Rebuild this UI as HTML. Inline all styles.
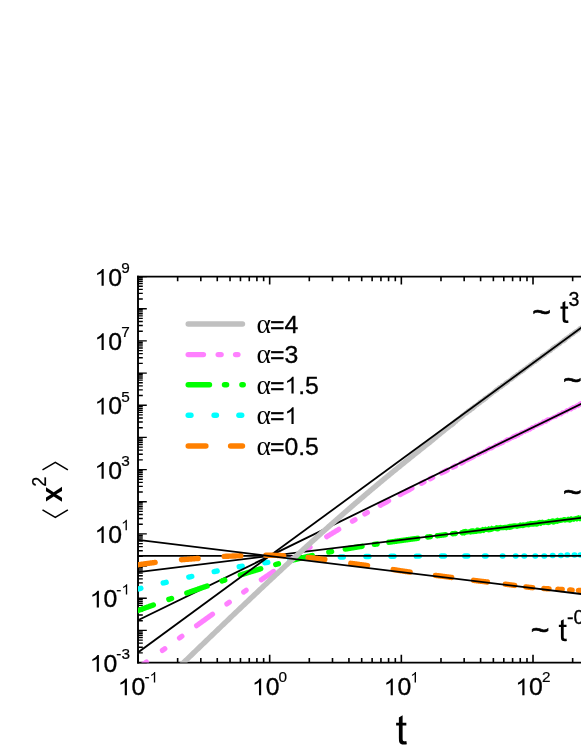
<!DOCTYPE html>
<html><head><meta charset="utf-8"><title>MSD</title>
<style>html,body{margin:0;padding:0;background:#fff;}body{width:581px;height:752px;overflow:hidden;position:relative;font-family:"Liberation Sans",sans-serif;}</style>
</head><body>
<svg width="581" height="752" viewBox="0 0 581 752" style="display:block;position:absolute;left:0;top:0;will-change:transform">
<rect x="0" y="0" width="581" height="752" fill="#fff"/>
<defs><clipPath id="pc"><rect x="138.0" y="276.55" width="448.0" height="386.00"/></clipPath></defs>
<g stroke="#000" fill="none">
<path d="M583,276.55 L137.05,276.55 M137.05,662.55 L583,662.55" stroke-width="1.65"/>
<path d="M138.0,275.73 L138.0,663.38" stroke-width="1.9"/>
<path d="M138.0,662.55h8.8M138.0,652.87h4.8M138.0,647.20h4.8M138.0,643.18h4.8M138.0,640.07h4.8M138.0,637.52h4.8M138.0,635.37h4.8M138.0,633.50h4.8M138.0,631.86h4.8M138.0,630.38h8.8M138.0,620.70h4.8M138.0,615.04h4.8M138.0,611.02h4.8M138.0,607.90h4.8M138.0,605.35h4.8M138.0,603.20h4.8M138.0,601.33h4.8M138.0,599.69h4.8M138.0,598.22h8.8M138.0,588.53h4.8M138.0,582.87h4.8M138.0,578.85h4.8M138.0,575.73h4.8M138.0,573.19h4.8M138.0,571.03h4.8M138.0,569.17h4.8M138.0,567.52h4.8M138.0,566.05h8.8M138.0,556.37h4.8M138.0,550.70h4.8M138.0,546.68h4.8M138.0,543.57h4.8M138.0,541.02h4.8M138.0,538.87h4.8M138.0,537.00h4.8M138.0,535.36h4.8M138.0,533.88h8.8M138.0,524.20h4.8M138.0,518.54h4.8M138.0,514.52h4.8M138.0,511.40h4.8M138.0,508.85h4.8M138.0,506.70h4.8M138.0,504.83h4.8M138.0,503.19h4.8M138.0,501.72h8.8M138.0,492.03h4.8M138.0,486.37h4.8M138.0,482.35h4.8M138.0,479.23h4.8M138.0,476.69h4.8M138.0,474.53h4.8M138.0,472.67h4.8M138.0,471.02h4.8M138.0,469.55h8.8M138.0,459.87h4.8M138.0,454.20h4.8M138.0,450.18h4.8M138.0,447.07h4.8M138.0,444.52h4.8M138.0,442.37h4.8M138.0,440.50h4.8M138.0,438.86h4.8M138.0,437.38h8.8M138.0,427.70h4.8M138.0,422.04h4.8M138.0,418.02h4.8M138.0,414.90h4.8M138.0,412.35h4.8M138.0,410.20h4.8M138.0,408.33h4.8M138.0,406.69h4.8M138.0,405.22h8.8M138.0,395.53h4.8M138.0,389.87h4.8M138.0,385.85h4.8M138.0,382.73h4.8M138.0,380.19h4.8M138.0,378.03h4.8M138.0,376.17h4.8M138.0,374.52h4.8M138.0,373.05h8.8M138.0,363.37h4.8M138.0,357.70h4.8M138.0,353.68h4.8M138.0,350.57h4.8M138.0,348.02h4.8M138.0,345.87h4.8M138.0,344.00h4.8M138.0,342.36h4.8M138.0,340.88h8.8M138.0,331.20h4.8M138.0,325.54h4.8M138.0,321.52h4.8M138.0,318.40h4.8M138.0,315.85h4.8M138.0,313.70h4.8M138.0,311.83h4.8M138.0,310.19h4.8M138.0,308.72h8.8M138.0,299.03h4.8M138.0,293.37h4.8M138.0,289.35h4.8M138.0,286.23h4.8M138.0,283.69h4.8M138.0,281.53h4.8M138.0,279.67h4.8M138.0,278.02h4.8M138.0,276.55h8.8" stroke-width="1.35"/>
<path d="M138.00,662.55v-7.9M138.00,276.55v7.9M177.64,662.55v-4.6M177.64,276.55v4.6M200.82,662.55v-4.6M200.82,276.55v4.6M217.27,662.55v-4.6M217.27,276.55v4.6M230.03,662.55v-4.6M230.03,276.55v4.6M240.46,662.55v-4.6M240.46,276.55v4.6M249.27,662.55v-4.6M249.27,276.55v4.6M256.91,662.55v-4.6M256.91,276.55v4.6M263.65,662.55v-4.6M263.65,276.55v4.6M269.67,662.55v-7.9M269.67,276.55v7.9M309.31,662.55v-4.6M309.31,276.55v4.6M332.49,662.55v-4.6M332.49,276.55v4.6M348.94,662.55v-4.6M348.94,276.55v4.6M361.70,662.55v-4.6M361.70,276.55v4.6M372.13,662.55v-4.6M372.13,276.55v4.6M380.94,662.55v-4.6M380.94,276.55v4.6M388.58,662.55v-4.6M388.58,276.55v4.6M395.32,662.55v-4.6M395.32,276.55v4.6M401.34,662.55v-7.9M401.34,276.55v7.9M440.98,662.55v-4.6M440.98,276.55v4.6M464.16,662.55v-4.6M464.16,276.55v4.6M480.61,662.55v-4.6M480.61,276.55v4.6M493.37,662.55v-4.6M493.37,276.55v4.6M503.80,662.55v-4.6M503.80,276.55v4.6M512.61,662.55v-4.6M512.61,276.55v4.6M520.25,662.55v-4.6M520.25,276.55v4.6M526.99,662.55v-4.6M526.99,276.55v4.6M533.01,662.55v-7.9M533.01,276.55v7.9M572.65,662.55v-4.6M572.65,276.55v4.6" stroke-width="1.6"/>
</g>
<g clip-path="url(#pc)">
<path d="M137.94,588.99 L138.43,588.87 L138.91,588.76 L139.40,588.64 L139.89,588.53 L140.37,588.41 L140.86,588.29" fill="none" stroke="#00ffff" stroke-width="5.4" stroke-linecap="round" stroke-linejoin="round"/>
<path d="M163.24,582.99 L163.73,582.87 L164.21,582.76 L164.70,582.64 L165.19,582.53 L165.67,582.42 L166.16,582.30" fill="none" stroke="#00ffff" stroke-width="5.4" stroke-linecap="round" stroke-linejoin="round"/>
<path d="M188.84,577.09 L189.32,576.98 L189.81,576.88 L190.30,576.77 L190.79,576.66 L191.28,576.55 L191.76,576.44" fill="none" stroke="#00ffff" stroke-width="5.4" stroke-linecap="round" stroke-linejoin="round"/>
<path d="M214.23,571.60 L214.72,571.50 L215.21,571.40 L215.70,571.29 L216.19,571.19 L216.68,571.09 L217.17,570.99" fill="none" stroke="#00ffff" stroke-width="5.4" stroke-linecap="round" stroke-linejoin="round"/>
<path d="M239.22,566.78 L239.71,566.69 L240.21,566.60 L240.70,566.52 L241.19,566.43 L241.69,566.34 L242.18,566.26" fill="none" stroke="#00ffff" stroke-width="5.4" stroke-linecap="round" stroke-linejoin="round"/>
<path d="M264.81,562.75 L265.31,562.69 L265.80,562.62 L266.30,562.56 L266.80,562.49 L267.29,562.42 L267.79,562.36" fill="none" stroke="#00ffff" stroke-width="5.4" stroke-linecap="round" stroke-linejoin="round"/>
<path d="M290.01,559.90 L290.50,559.85 L291.00,559.81 L291.50,559.76 L292.00,559.72 L292.50,559.68 L292.99,559.63" fill="none" stroke="#00ffff" stroke-width="5.4" stroke-linecap="round" stroke-linejoin="round"/>
<path d="M315.20,558.08 L315.70,558.06 L316.20,558.03 L316.70,558.00 L317.20,557.98 L317.70,557.95 L318.20,557.92" fill="none" stroke="#00ffff" stroke-width="5.4" stroke-linecap="round" stroke-linejoin="round"/>
<path d="M340.30,557.05 L340.80,557.04 L341.30,557.02 L341.80,557.01 L342.30,556.99 L342.80,556.98 L343.30,556.97" fill="none" stroke="#00ffff" stroke-width="5.4" stroke-linecap="round" stroke-linejoin="round"/>
<path d="M365.90,556.50 L366.40,556.49 L366.90,556.49 L367.40,556.48 L367.90,556.47 L368.40,556.46 L368.90,556.46" fill="none" stroke="#00ffff" stroke-width="5.4" stroke-linecap="round" stroke-linejoin="round"/>
<path d="M391.00,556.23 L391.50,556.23 L392.00,556.22 L392.50,556.22 L393.00,556.22 L393.50,556.21 L394.00,556.21" fill="none" stroke="#00ffff" stroke-width="5.4" stroke-linecap="round" stroke-linejoin="round"/>
<path d="M416.30,556.10 L416.80,556.09 L417.30,556.09 L417.80,556.09 L418.30,556.09 L418.80,556.09 L419.30,556.09" fill="none" stroke="#00ffff" stroke-width="5.4" stroke-linecap="round" stroke-linejoin="round"/>
<path d="M441.50,556.03 L442.00,556.03 L442.50,556.03 L443.00,556.03 L443.50,556.03 L444.00,556.03 L444.50,556.03" fill="none" stroke="#00ffff" stroke-width="5.4" stroke-linecap="round" stroke-linejoin="round"/>
<path d="M464.80,556.00 L465.30,556.00 L465.80,556.00 L466.30,556.00 L466.80,556.00 L467.30,556.00 L467.80,556.00" fill="none" stroke="#00ffff" stroke-width="5.4" stroke-linecap="round" stroke-linejoin="round"/>
<path d="M484.50,555.99 L484.90,555.99 L485.30,555.99 L485.70,555.99 L486.10,555.99" fill="none" stroke="#00ffff" stroke-width="5.4" stroke-linecap="round" stroke-linejoin="round"/>
<path d="M502.30,555.98 L502.60,555.98 L502.90,555.98" fill="none" stroke="#00ffff" stroke-width="5.4" stroke-linecap="round" stroke-linejoin="round"/>
<path d="M515.40,555.98 L515.70,555.98 L516.00,555.98" fill="none" stroke="#00ffff" stroke-width="5.4" stroke-linecap="round" stroke-linejoin="round"/>
<path d="M524.00,555.98 L524.30,555.98 L524.60,555.98" fill="none" stroke="#00ffff" stroke-width="5.4" stroke-linecap="round" stroke-linejoin="round"/>
<path d="M535.00,555.98 L535.30,555.98 L535.60,555.98" fill="none" stroke="#00ffff" stroke-width="5.4" stroke-linecap="round" stroke-linejoin="round"/>
<path d="M544.00,555.98 L544.30,555.97 L544.60,555.97" fill="none" stroke="#00ffff" stroke-width="5.4" stroke-linecap="round" stroke-linejoin="round"/>
<path d="M552.40,555.47 L552.70,555.47 L553.00,555.47" fill="none" stroke="#00ffff" stroke-width="5.4" stroke-linecap="round" stroke-linejoin="round"/>
<path d="M560.60,555.47 L560.90,555.47 L561.20,555.47" fill="none" stroke="#00ffff" stroke-width="5.4" stroke-linecap="round" stroke-linejoin="round"/>
<path d="M567.00,554.97 L567.30,554.97 L567.60,554.97" fill="none" stroke="#00ffff" stroke-width="5.4" stroke-linecap="round" stroke-linejoin="round"/>
<path d="M574.20,554.97 L574.50,554.97 L574.80,554.97" fill="none" stroke="#00ffff" stroke-width="5.4" stroke-linecap="round" stroke-linejoin="round"/>
<path d="M580.20,554.97 L580.50,554.97 L580.80,554.97" fill="none" stroke="#00ffff" stroke-width="5.4" stroke-linecap="round" stroke-linejoin="round"/>
<line x1="138.0" y1="555.97" x2="586" y2="555.97" stroke="#000" stroke-width="1.8"/>
<path d="M140.10,666.65 L140.59,666.30 L141.07,665.94 L141.55,665.59 L142.04,665.24 L142.52,664.88 L143.01,664.53 L143.49,664.18 L143.98,663.82 L144.46,663.47 L144.95,663.12 L145.43,662.76 L145.91,662.41 L146.40,662.06" fill="none" stroke="#ff80ff" stroke-width="5.2" stroke-linecap="round" stroke-linejoin="round"/>
<path d="M196.61,625.63 L197.10,625.27 L197.60,624.91 L198.10,624.56 L198.59,624.20 L199.09,623.84 L199.59,623.48 L200.08,623.13 L200.58,622.77 L201.07,622.41 L201.57,622.06 L202.07,621.70 L202.56,621.34 L203.06,620.98 L203.55,620.63 L204.05,620.27 L204.55,619.91 L205.04,619.56 L205.54,619.20 L206.04,618.84 L206.53,618.49 L207.03,618.13 L207.52,617.77 L208.02,617.42 L208.52,617.06 L209.01,616.71 L209.51,616.35 L210.00,615.99 L210.50,615.64 L211.00,615.28 L211.49,614.93 L211.99,614.57 L212.49,614.22" fill="none" stroke="#ff80ff" stroke-width="5.2" stroke-linecap="round" stroke-linejoin="round"/>
<path d="M261.34,579.75 L261.83,579.42 L262.31,579.08 L262.80,578.74 L263.29,578.40 L263.78,578.07 L264.27,577.73 L264.76,577.40 L265.25,577.06 L265.73,576.72 L266.22,576.39 L266.71,576.05 L267.20,575.72 L267.69,575.38 L268.18,575.05 L268.66,574.71 L269.15,574.38 L269.64,574.04 L270.13,573.71 L270.62,573.38 L271.11,573.04 L271.60,572.71 L272.08,572.37 L272.57,572.04 L273.06,571.71 L273.55,571.38" fill="none" stroke="#ff80ff" stroke-width="5.2" stroke-linecap="round" stroke-linejoin="round"/>
<path d="M326.71,536.71 L327.19,536.41 L327.67,536.11 L328.15,535.81 L328.64,535.51 L329.12,535.22 L329.60,534.92 L330.09,534.62 L330.57,534.32 L331.05,534.03 L331.53,533.73 L332.02,533.44 L332.50,533.14 L332.98,532.85 L333.46,532.55 L333.95,532.26 L334.43,531.96 L334.91,531.67 L335.39,531.38 L335.88,531.08 L336.36,530.79 L336.84,530.50 L337.32,530.20 L337.81,529.91 L338.29,529.62 L338.77,529.33" fill="none" stroke="#ff80ff" stroke-width="5.2" stroke-linecap="round" stroke-linejoin="round"/>
<path d="M380.27,505.37 L380.76,505.10 L381.25,504.83 L381.75,504.56 L382.24,504.29 L382.73,504.02 L383.22,503.75 L383.71,503.48 L384.20,503.21 L384.69,502.94 L385.18,502.67 L385.67,502.40 L386.16,502.13 L386.65,501.87 L387.14,501.60 L387.63,501.33 L388.12,501.06 L388.61,500.79" fill="none" stroke="#ff80ff" stroke-width="5.2" stroke-linecap="round" stroke-linejoin="round"/>
<path d="M400.09,494.60 L400.59,494.34 L401.08,494.07 L401.58,493.81 L402.08,493.54 L402.57,493.28 L403.07,493.01 L403.56,492.75 L404.06,492.49 L404.56,492.22 L405.05,491.96 L405.55,491.70 L406.04,491.43 L406.54,491.17 L407.04,490.91 L407.53,490.65 L408.03,490.38 L408.52,490.12 L409.02,489.86 L409.52,489.60 L410.01,489.34 L410.51,489.07 L411.00,488.81 L411.50,488.55 L412.00,488.29" fill="none" stroke="#ff80ff" stroke-width="5.2" stroke-linecap="round" stroke-linejoin="round"/>
<path d="M441.52,473.03 L442.00,472.79 L442.48,472.54 L442.96,472.30 L443.44,472.05 L443.92,471.81 L444.40,471.57 L444.88,471.32 L445.36,471.08 L445.84,470.83 L446.32,470.59 L446.80,470.35 L447.28,470.10" fill="none" stroke="#ff80ff" stroke-width="5.2" stroke-linecap="round" stroke-linejoin="round"/>
<path d="M162.39,650.42 L162.87,650.07 L163.36,649.71 L163.84,649.36 L164.33,649.01 L164.81,648.66" fill="none" stroke="#ff80ff" stroke-width="5.2" stroke-linecap="round" stroke-linejoin="round"/>
<path d="M179.49,638.01 L179.97,637.66 L180.46,637.30 L180.94,636.95 L181.43,636.60 L181.91,636.25" fill="none" stroke="#ff80ff" stroke-width="5.2" stroke-linecap="round" stroke-linejoin="round"/>
<path d="M226.88,603.94 L227.37,603.59 L227.86,603.25 L228.34,602.90 L228.83,602.55 L229.32,602.20" fill="none" stroke="#ff80ff" stroke-width="5.2" stroke-linecap="round" stroke-linejoin="round"/>
<path d="M243.67,592.07 L244.16,591.72 L244.65,591.38 L245.15,591.03 L245.64,590.69 L246.13,590.34" fill="none" stroke="#ff80ff" stroke-width="5.2" stroke-linecap="round" stroke-linejoin="round"/>
<path d="M290.75,559.81 L291.17,559.53 L291.58,559.25 L292.00,558.98 L292.42,558.70 L292.83,558.43 L293.25,558.15" fill="none" stroke="#ff80ff" stroke-width="5.2" stroke-linecap="round" stroke-linejoin="round"/>
<path d="M307.54,548.82 L307.96,548.55 L308.38,548.28 L308.80,548.01 L309.22,547.74 L309.64,547.47 L310.06,547.20" fill="none" stroke="#ff80ff" stroke-width="5.2" stroke-linecap="round" stroke-linejoin="round"/>
<path d="M352.40,521.22 L352.84,520.97 L353.27,520.72 L353.70,520.47 L354.13,520.21 L354.56,519.96 L355.00,519.71" fill="none" stroke="#ff80ff" stroke-width="5.2" stroke-linecap="round" stroke-linejoin="round"/>
<path d="M364.80,514.06 L365.23,513.81 L365.67,513.57 L366.10,513.32 L366.53,513.07 L366.97,512.83 L367.40,512.58" fill="none" stroke="#ff80ff" stroke-width="5.2" stroke-linecap="round" stroke-linejoin="round"/>
<path d="M421.37,483.39 L421.81,483.16 L422.26,482.93 L422.70,482.70 L423.14,482.47 L423.59,482.24 L424.03,482.01" fill="none" stroke="#ff80ff" stroke-width="5.2" stroke-linecap="round" stroke-linejoin="round"/>
<path d="M430.07,478.90 L430.51,478.67 L430.96,478.44 L431.40,478.21 L431.84,477.98 L432.29,477.75 L432.73,477.52" fill="none" stroke="#ff80ff" stroke-width="5.2" stroke-linecap="round" stroke-linejoin="round"/>
<path d="M452.96,467.23 L453.41,467.00 L453.85,466.78 L454.30,466.55 L454.75,466.32 L455.19,466.10 L455.64,465.87" fill="none" stroke="#ff80ff" stroke-width="5.2" stroke-linecap="round" stroke-linejoin="round"/>
<path d="M461.16,463.10 L461.61,462.87 L462.05,462.65 L462.50,462.42 L462.95,462.20 L463.39,461.97 L463.84,461.75" fill="none" stroke="#ff80ff" stroke-width="5.2" stroke-linecap="round" stroke-linejoin="round"/>
<path d="M467.00,460.16 L467.50,459.91 L468.00,459.66 L468.50,459.41 L469.00,459.16 L469.50,458.91 L470.00,458.66 L470.50,458.41 L471.00,458.16 L471.50,457.91 L472.00,457.66 L472.50,457.41 L473.00,457.16 L473.50,456.91 L474.00,456.66" fill="none" stroke="#ff80ff" stroke-width="4.6" stroke-linecap="round" stroke-linejoin="round"/>
<path d="M476.40,452.91 L477.60,451.95 L478.80,451.48 L480.00,451.41 L481.20,450.83 L482.40,450.20 L483.60,449.21 L484.80,448.95 L486.00,447.80 L487.20,447.26 L488.40,446.22 L489.60,445.76 L490.80,445.95 L492.00,445.17 L493.20,444.72 L494.40,443.62 L495.60,443.12 L496.80,443.06 L498.00,441.79 L499.20,441.60 L500.40,440.85 L501.60,439.88 L502.80,439.89 L504.00,438.99 L505.20,438.17 L506.40,437.30 L507.60,437.33 L508.80,437.03 L510.00,436.56 L511.20,435.17 L512.40,434.46 L513.60,434.06 L514.80,433.60 L516.00,432.72 L517.20,432.53 L518.40,432.40 L519.60,431.16 L520.80,430.38 L522.00,430.27 L523.20,430.07 L524.40,429.32 L525.60,428.85 L526.80,428.19 L528.00,427.31 L529.20,427.06 L530.40,425.95 L531.60,425.07 L532.80,425.07 L534.00,424.39 L535.20,423.14 L536.40,423.41 L537.60,422.76 L538.80,421.78 L540.00,421.83 L541.20,420.84 L542.40,419.61 L543.60,419.50 L544.80,418.74 L546.00,417.90 L547.20,417.34 L548.40,417.28 L549.60,417.01 L550.80,416.47 L552.00,415.72 L553.20,414.99 L554.40,414.77 L555.60,414.07 L556.80,413.57 L558.00,412.33 L559.20,412.14 L560.40,411.43 L561.60,410.31 L562.80,410.14 L564.00,409.97 L565.20,409.10 L566.40,407.98 L567.60,408.28 L568.80,407.13 L570.00,406.53 L571.20,405.96 L572.40,405.00 L573.60,405.08 L574.80,404.59 L576.00,403.60 L577.20,403.24 L578.40,402.12 L579.60,401.49 L580.80,400.94 L582.00,401.00 L583.20,400.27 L584.00,400.24 L584.00,404.78 L583.20,404.89 L582.00,406.02 L580.80,406.85 L579.60,407.51 L578.40,408.30 L577.20,408.04 L576.00,409.24 L574.80,409.82 L573.60,409.97 L572.40,410.92 L571.20,411.81 L570.00,411.36 L568.80,412.08 L567.60,413.55 L566.40,413.27 L565.20,413.97 L564.00,414.38 L562.80,415.39 L561.60,416.53 L560.40,416.17 L559.20,417.00 L558.00,417.37 L556.80,418.76 L555.60,418.78 L554.40,419.14 L553.20,419.62 L552.00,420.33 L550.80,420.81 L549.60,422.02 L548.40,422.35 L547.20,423.38 L546.00,423.95 L544.80,423.74 L543.60,424.95 L542.40,425.62 L541.20,426.07 L540.00,426.50 L538.80,426.92 L537.60,427.75 L536.40,428.06 L535.20,428.56 L534.00,429.96 L532.80,430.03 L531.60,431.12 L530.40,431.73 L529.20,431.84 L528.00,432.90 L526.80,432.80 L525.60,433.96 L524.40,433.84 L523.20,434.81 L522.00,435.63 L520.80,435.79 L519.60,437.16 L518.40,437.43 L517.20,437.99 L516.00,438.89 L514.80,438.94 L513.60,439.68 L512.40,439.97 L511.20,440.84 L510.00,441.54 L508.80,441.94 L507.60,442.82 L506.40,442.71 L505.20,443.49 L504.00,444.73 L502.80,444.99 L501.60,445.72 L500.40,445.88 L499.20,446.79 L498.00,447.21 L496.80,447.56 L495.60,447.99 L494.40,448.93 L493.20,449.75 L492.00,450.61 L490.80,450.43 L489.60,451.22 L488.40,451.55 L487.20,452.53 L486.00,453.73 L484.80,453.53 L483.60,454.79 L482.40,454.58 L481.20,455.55 L480.00,456.23 L478.80,456.67 L477.60,456.95 L476.40,457.63Z" fill="#ff80ff"/>
<line x1="138.0" y1="620.29" x2="586" y2="401.45" stroke="#000" stroke-width="1.8"/>
<path d="M133.54,612.13 L134.03,611.95 L134.53,611.77 L135.02,611.59 L135.52,611.41 L136.02,611.23 L136.51,611.05 L137.01,610.87 L137.50,610.69 L138.00,610.51 L138.49,610.33 L138.99,610.15 L139.48,609.98 L139.98,609.80 L140.48,609.62 L140.97,609.44 L141.47,609.26 L141.96,609.08 L142.46,608.90 L142.95,608.72 L143.45,608.54 L143.94,608.36 L144.44,608.18 L144.94,608.01 L145.43,607.83 L145.93,607.65 L146.42,607.47 L146.92,607.29 L147.41,607.11 L147.91,606.93 L148.40,606.75 L148.90,606.58 L149.39,606.40 L149.89,606.22 L150.39,606.04 L150.88,605.86 L151.38,605.68 L151.87,605.50 L152.37,605.33 L152.86,605.15 L153.36,604.97" fill="none" stroke="#00ff00" stroke-width="5.4" stroke-linecap="round" stroke-linejoin="round"/>
<path d="M186.85,593.04 L187.34,592.87 L187.83,592.70 L188.32,592.52 L188.82,592.35 L189.31,592.18 L189.80,592.01 L190.29,591.83 L190.79,591.66 L191.28,591.49 L191.77,591.32 L192.27,591.14 L192.76,590.97 L193.25,590.80 L193.74,590.63 L194.24,590.46 L194.73,590.28 L195.22,590.11 L195.71,589.94 L196.21,589.77 L196.70,589.60 L197.19,589.43 L197.68,589.26 L198.18,589.08 L198.67,588.91 L199.16,588.74 L199.66,588.57 L200.15,588.40 L200.64,588.23 L201.13,588.06 L201.63,587.89 L202.12,587.72 L202.61,587.55 L203.10,587.38 L203.60,587.21 L204.09,587.04 L204.58,586.87 L205.07,586.70 L205.57,586.53 L206.06,586.36 L206.55,586.20 L207.04,586.03" fill="none" stroke="#00ff00" stroke-width="5.4" stroke-linecap="round" stroke-linejoin="round"/>
<path d="M240.27,575.02 L240.77,574.87 L241.27,574.71 L241.77,574.55 L242.27,574.39 L242.76,574.24 L243.26,574.08 L243.76,573.92 L244.26,573.77 L244.76,573.61 L245.26,573.45 L245.75,573.30 L246.25,573.14 L246.75,572.99 L247.25,572.83 L247.75,572.68 L248.25,572.53 L248.74,572.37 L249.24,572.22 L249.74,572.07 L250.24,571.91 L250.74,571.76 L251.24,571.61 L251.74,571.46 L252.23,571.30 L252.73,571.15 L253.23,571.00 L253.73,570.85 L254.23,570.70 L254.73,570.55 L255.22,570.40 L255.72,570.25 L256.22,570.10 L256.72,569.95 L257.22,569.80 L257.72,569.65 L258.22,569.50 L258.71,569.36 L259.21,569.21 L259.71,569.06 L260.21,568.91 L260.71,568.77" fill="none" stroke="#00ff00" stroke-width="5.4" stroke-linecap="round" stroke-linejoin="round"/>
<path d="M292.62,560.11 L293.11,559.99 L293.61,559.86 L294.10,559.74 L294.59,559.62 L295.09,559.50 L295.58,559.38 L296.07,559.26 L296.57,559.14 L297.06,559.02 L297.55,558.90 L298.05,558.79 L298.54,558.67 L299.03,558.55 L299.53,558.43 L300.02,558.32 L300.51,558.20 L301.01,558.09 L301.50,557.97 L302.00,557.85 L302.49,557.74 L302.98,557.63 L303.48,557.51 L303.97,557.40 L304.46,557.28 L304.96,557.17 L305.45,557.06 L305.94,556.95 L306.44,556.83 L306.93,556.72 L307.42,556.61 L307.92,556.50 L308.41,556.39 L308.90,556.28 L309.40,556.17 L309.89,556.06 L310.39,555.95 L310.88,555.84 L311.37,555.74 L311.87,555.63 L312.36,555.52" fill="none" stroke="#00ff00" stroke-width="5.4" stroke-linecap="round" stroke-linejoin="round"/>
<path d="M345.26,549.10 L345.75,549.02 L346.24,548.93 L346.74,548.84 L347.23,548.76 L347.73,548.67 L348.22,548.59 L348.71,548.50 L349.21,548.42 L349.70,548.33 L350.19,548.25 L350.69,548.17 L351.18,548.08 L351.67,548.00 L352.17,547.92 L352.66,547.83 L353.15,547.75 L353.65,547.67 L354.14,547.59 L354.63,547.50 L355.13,547.42 L355.62,547.34 L356.11,547.26 L356.61,547.18 L357.10,547.10 L357.59,547.02 L358.09,546.94 L358.58,546.85 L359.07,546.77 L359.57,546.70 L360.06,546.62 L360.55,546.54 L361.05,546.46 L361.54,546.38 L362.03,546.30" fill="none" stroke="#00ff00" stroke-width="5.4" stroke-linecap="round" stroke-linejoin="round"/>
<path d="M388.87,542.26 L389.37,542.19 L389.86,542.12 L390.36,542.05 L390.86,541.98 L391.35,541.91 L391.85,541.84 L392.34,541.77 L392.84,541.70 L393.33,541.63 L393.83,541.56 L394.33,541.49 L394.82,541.42 L395.32,541.35 L395.81,541.28 L396.31,541.21 L396.80,541.14 L397.30,541.08 L397.80,541.01 L398.29,540.94 L398.79,540.87 L399.28,540.80 L399.78,540.73 L400.27,540.66 L400.77,540.60 L401.26,540.53 L401.76,540.46 L402.26,540.39 L402.75,540.32 L403.25,540.25 L403.74,540.19 L404.24,540.12 L404.73,540.05 L405.23,539.98 L405.73,539.92 L406.22,539.85 L406.72,539.78 L407.21,539.72 L407.71,539.65 L408.20,539.58 L408.70,539.51 L409.20,539.45 L409.69,539.38 L410.19,539.31 L410.68,539.25 L411.18,539.18 L411.67,539.11 L412.17,539.05 L412.67,538.98 L413.16,538.91 L413.66,538.85 L414.15,538.78 L414.65,538.72 L415.14,538.65 L415.64,538.58 L416.14,538.52 L416.63,538.45 L417.13,538.39 L417.62,538.32" fill="none" stroke="#00ff00" stroke-width="5.4" stroke-linecap="round" stroke-linejoin="round"/>
<path d="M437.38,535.75 L437.86,535.68 L438.34,535.62 L438.81,535.56 L439.29,535.50 L439.77,535.44 L440.25,535.38 L440.73,535.32 L441.21,535.25 L441.69,535.19 L442.17,535.13 L442.65,535.07 L443.13,535.01 L443.61,534.95 L444.08,534.89 L444.56,534.83 L445.04,534.77 L445.52,534.70" fill="none" stroke="#00ff00" stroke-width="5.4" stroke-linecap="round" stroke-linejoin="round"/>
<path d="M168.88,599.41 L169.32,599.25 L169.76,599.09 L170.20,598.94 L170.64,598.78 L171.08,598.62 L171.52,598.47" fill="none" stroke="#00ff00" stroke-width="5.4" stroke-linecap="round" stroke-linejoin="round"/>
<path d="M222.07,580.95 L222.51,580.80 L222.96,580.65 L223.40,580.51 L223.84,580.36 L224.29,580.21 L224.73,580.07" fill="none" stroke="#00ff00" stroke-width="5.4" stroke-linecap="round" stroke-linejoin="round"/>
<path d="M275.75,564.50 L276.20,564.38 L276.65,564.26 L277.10,564.13 L277.55,564.01 L278.00,563.89 L278.45,563.77" fill="none" stroke="#00ff00" stroke-width="5.4" stroke-linecap="round" stroke-linejoin="round"/>
<path d="M328.83,552.13 L329.28,552.04 L329.74,551.96 L330.20,551.87 L330.66,551.78 L331.12,551.69 L331.57,551.60" fill="none" stroke="#00ff00" stroke-width="5.4" stroke-linecap="round" stroke-linejoin="round"/>
<path d="M374.32,544.39 L374.78,544.32 L375.24,544.26 L375.70,544.19 L376.16,544.12 L376.62,544.05 L377.08,543.98" fill="none" stroke="#00ff00" stroke-width="5.4" stroke-linecap="round" stroke-linejoin="round"/>
<path d="M427.61,537.01 L428.07,536.95 L428.54,536.89 L429.00,536.83 L429.46,536.77 L429.93,536.71 L430.39,536.65" fill="none" stroke="#00ff00" stroke-width="5.4" stroke-linecap="round" stroke-linejoin="round"/>
<path d="M452.61,533.80 L453.07,533.75 L453.54,533.69 L454.00,533.63 L454.46,533.57 L454.93,533.51 L455.39,533.45" fill="none" stroke="#00ff00" stroke-width="5.4" stroke-linecap="round" stroke-linejoin="round"/>
<path d="M461.50,530.17 L463.00,529.15 L464.50,528.98 L466.00,528.77 L467.50,529.47 L469.00,529.31 L470.50,528.61 L472.00,528.16 L473.50,528.20 L475.00,528.69 L476.50,527.52 L478.00,527.52 L479.50,528.02 L481.00,527.65 L482.50,526.70 L484.00,527.19 L485.50,526.62 L487.00,527.15 L488.50,526.03 L490.00,526.76 L491.50,525.57 L493.00,526.14 L494.50,526.22 L496.00,525.03 L497.50,525.37 L499.00,525.30 L500.50,524.64 L502.00,525.15 L503.50,524.98 L505.00,524.77 L506.50,524.74 L508.00,524.28 L509.50,523.82 L511.00,523.84 L512.50,523.55 L514.00,523.34 L515.50,523.26 L517.00,523.60 L518.50,523.21 L520.00,522.36 L521.50,522.66 L523.00,522.20 L524.50,522.55 L526.00,522.20 L527.50,521.38 L529.00,521.45 L530.50,520.85 L532.00,521.02 L533.50,520.96 L535.00,520.85 L536.50,520.63 L538.00,520.18 L539.50,519.71 L541.00,519.98 L542.50,519.46 L544.00,520.14 L545.50,520.02 L547.00,519.83 L548.50,518.80 L550.00,519.37 L551.50,518.58 L553.00,518.13 L554.50,518.74 L556.00,518.34 L557.50,517.45 L559.00,518.26 L560.50,517.65 L562.00,517.85 L563.50,517.03 L565.00,517.05 L566.50,517.51 L568.00,516.60 L569.50,517.09 L571.00,516.04 L572.50,516.67 L574.00,516.57 L575.50,516.11 L577.00,515.74 L578.50,515.08 L580.00,515.70 L581.50,515.01 L583.00,515.41 L584.00,514.57 L584.00,520.30 L583.00,519.98 L581.50,520.94 L580.00,521.38 L578.50,520.77 L577.00,521.74 L575.50,520.99 L574.00,521.95 L572.50,521.52 L571.00,522.55 L569.50,522.75 L568.00,522.36 L566.50,522.33 L565.00,522.64 L563.50,522.32 L562.00,522.86 L560.50,523.07 L559.00,523.37 L557.50,524.03 L556.00,523.80 L554.50,524.54 L553.00,524.75 L551.50,523.94 L550.00,524.81 L548.50,525.21 L547.00,525.12 L545.50,524.79 L544.00,525.22 L542.50,525.04 L541.00,526.19 L539.50,525.55 L538.00,526.47 L536.50,526.74 L535.00,526.43 L533.50,526.81 L532.00,526.77 L530.50,526.87 L529.00,527.44 L527.50,527.32 L526.00,527.23 L524.50,527.75 L523.00,528.21 L521.50,528.07 L520.00,528.30 L518.50,528.39 L517.00,528.96 L515.50,528.41 L514.00,528.39 L512.50,529.19 L511.00,529.84 L509.50,530.01 L508.00,529.66 L506.50,530.39 L505.00,529.98 L503.50,530.37 L502.00,530.20 L500.50,530.29 L499.00,531.27 L497.50,531.53 L496.00,531.37 L494.50,530.79 L493.00,531.62 L491.50,531.94 L490.00,532.32 L488.50,532.49 L487.00,531.89 L485.50,532.09 L484.00,533.21 L482.50,532.74 L481.00,533.41 L479.50,533.58 L478.00,533.40 L476.50,533.95 L475.00,533.99 L473.50,534.34 L472.00,534.15 L470.50,534.84 L469.00,534.19 L467.50,534.40 L466.00,534.76 L464.50,535.69 L463.00,535.23 L461.50,535.72Z" fill="#00ff00"/>
<path d="M462.00,532.62 L462.50,532.56" fill="none" stroke="#00ff00" stroke-width="5.4" stroke-linecap="round" stroke-linejoin="round"/>
<line x1="138.0" y1="572.05" x2="586" y2="517.34" stroke="#000" stroke-width="1.8"/>
<path d="M168.12,673.82 L169.12,672.85 L170.12,671.88 L171.12,670.91 L172.12,669.94 L173.12,668.98 L174.12,668.01 L175.12,667.04 L176.12,666.07 L177.12,665.11 L178.12,664.14 L179.12,663.17 L180.12,662.21 L181.12,661.24 L182.12,660.27 L183.12,659.31 L184.12,658.34 L185.12,657.38 L186.12,656.41 L187.12,655.44 L188.13,654.48 L189.13,653.51 L190.13,652.55 L191.13,651.58 L192.13,650.62 L193.13,649.66 L194.13,648.69 L195.13,647.73 L196.13,646.76 L197.13,645.80 L198.13,644.84 L199.13,643.87 L200.13,642.91 L201.13,641.95 L202.13,640.99 L203.13,640.03 L204.13,639.06 L205.13,638.10 L206.13,637.14 L207.13,636.18 L208.13,635.22 L209.13,634.26 L210.13,633.30 L211.13,632.34 L212.13,631.38 L213.13,630.42 L214.13,629.46 L215.13,628.50 L216.13,627.54 L217.13,626.59 L218.13,625.63 L219.13,624.67 L220.13,623.71 L221.13,622.76 L222.13,621.80 L223.13,620.84 L224.13,619.89 L225.14,618.93 L226.14,617.98 L227.14,617.02 L228.14,616.07 L229.14,615.11 L230.14,614.16 L231.14,613.21 L232.14,612.25 L233.14,611.30 L234.14,610.35 L235.14,609.40 L236.14,608.44 L237.14,607.49 L238.14,606.54 L239.14,605.59 L240.14,604.64 L241.14,603.69 L242.14,602.74 L243.14,601.80 L244.14,600.85 L245.14,599.90 L246.14,598.95 L247.14,598.01 L248.14,597.06 L249.15,596.11 L250.15,595.17 L251.15,594.22 L252.15,593.28 L253.15,592.34 L254.15,591.39 L255.15,590.45 L256.15,589.51 L257.15,588.57 L258.15,587.62 L259.15,586.68 L260.15,585.74 L261.15,584.80 L262.15,583.87 L263.15,582.93 L264.15,581.99 L265.15,581.05 L266.16,580.11 L267.16,579.18 L268.16,578.24 L269.16,577.31 L270.16,576.37 L271.16,575.44 L272.16,574.51 L273.16,573.57 L274.16,572.64 L275.16,571.71 L276.16,570.78 L277.16,569.85 L278.16,568.92 L279.16,567.99 L280.16,567.07 L281.17,566.14 L282.17,565.21 L283.17,564.29 L284.17,563.36 L285.17,562.44 L286.17,561.51 L287.17,560.59 L288.17,559.67 L289.17,558.75 L290.17,557.83 L291.17,556.91 L292.17,555.99 L293.18,555.07 L294.18,554.15 L295.18,553.23 L296.18,552.32 L297.18,551.40 L298.18,550.49 L299.18,549.58 L300.18,548.66 L301.18,547.75 L302.18,546.84 L303.18,545.93 L304.18,545.02 L305.19,544.11 L306.19,543.20 L307.19,542.30 L308.19,541.39 L309.19,540.49 L310.19,539.58 L311.19,538.68 L312.19,537.78 L313.19,536.88 L314.19,535.97 L315.20,535.08 L316.20,534.18 L317.20,533.28 L318.20,532.38 L319.20,531.49 L320.20,530.59 L321.20,529.70 L322.20,528.80 L323.20,527.91 L324.21,527.02 L325.21,526.13 L326.21,525.24 L327.21,524.35 L328.21,523.47 L329.21,522.58 L330.21,521.70 L331.21,520.81 L332.21,519.93 L333.22,519.05 L334.22,518.17 L335.22,517.29 L336.22,516.41 L337.22,515.53 L338.22,514.65 L339.22,513.78 L340.22,512.90 L341.23,512.03 L342.23,511.16 L343.23,510.28 L344.23,509.41 L345.23,508.54 L346.23,507.67 L347.23,506.81 L348.23,505.94 L349.24,505.08 L350.24,504.21 L351.24,503.35 L352.24,502.49 L353.24,501.62 L354.24,500.76 L355.24,499.91 L356.24,499.05 L357.25,498.19 L358.25,497.33 L359.25,496.48 L360.25,495.63 L361.25,494.77 L362.25,493.92 L363.25,493.07 L364.25,492.22 L365.26,491.37 L366.26,490.53 L367.26,489.68 L368.26,488.84 L369.26,487.99 L370.26,487.15 L371.26,486.31 L372.26,485.47 L373.27,484.63 L374.27,483.79 L375.27,482.95 L376.27,482.11 L377.27,481.28 L378.27,480.44 L379.27,479.61 L380.27,478.78 L381.28,477.94 L382.28,477.11 L383.28,476.28 L384.28,475.46 L385.28,474.63 L386.28,473.80 L387.28,472.98 L388.28,472.15 L389.29,471.33 L390.29,470.51 L391.29,469.68 L392.29,468.86 L393.29,468.04 L394.29,467.23 L395.29,466.41 L396.29,465.59 L397.30,464.78 L398.30,463.96 L399.30,463.15 L400.30,462.34 L401.30,461.52 L402.30,460.71 L403.30,459.90 L404.30,459.09 L405.30,458.29 L406.31,457.48 L407.31,456.67 L408.31,455.87 L409.31,455.06 L410.31,454.26 L411.31,453.46 L412.31,452.65 L413.31,451.85 L414.31,451.05 L415.32,450.25 L416.32,449.45 L417.32,448.66 L418.32,447.86 L419.32,447.06 L420.32,446.27 L421.32,445.47 L422.32,444.68 L423.32,443.89 L424.33,443.10 L425.33,442.30 L426.33,441.51 L427.33,440.72 L428.30,439.96 L429.28,439.15 L430.28,438.32 L431.29,437.50 L432.29,436.68 L433.30,435.86 L434.31,435.04 L435.31,434.22 L436.32,433.40 L437.32,432.59 L438.33,431.78 L439.33,430.97 L440.34,430.16 L441.34,429.36 L442.34,428.55 L443.35,427.75 L444.35,426.95 L445.36,426.15 L446.36,425.35 L447.37,424.55 L448.37,423.76 L449.54,423.17 L450.33,422.11 L451.54,421.58 L452.55,420.80 L453.41,419.83 L454.38,418.99 L455.49,418.34 L456.40,417.44 L457.56,416.85 L458.58,416.10 L459.49,415.20 L460.33,414.21 L461.43,413.55 L462.49,412.85 L463.53,412.12 L464.36,411.12 L465.56,410.60 L466.29,409.48 L467.34,408.76 L468.46,408.15 L469.50,407.43 L470.40,406.52 L471.53,405.91 L472.40,404.98 L473.51,404.36 L474.64,403.76 L475.64,402.99 L476.58,402.14 L477.64,401.46 L478.36,400.32 L479.58,399.84 L480.58,399.08 L481.63,398.39 L482.60,397.58 L483.34,396.48 L484.61,396.08 L485.59,395.29 L486.70,394.68 L487.54,393.70 L488.64,393.08 L489.71,392.42 L490.69,391.63 L491.71,390.91 L492.62,390.03 L493.52,389.14 L494.46,388.32 L495.48,387.58 L496.60,386.99 L497.39,385.96 L498.48,385.34 L499.73,384.92 L500.43,383.77 L501.49,383.10 L502.71,382.64 L503.59,381.71 L504.49,380.83 L505.57,380.21 L506.54,379.43 L507.70,378.92 L508.74,378.23 L509.75,377.51 L510.59,376.56 L511.56,375.79 L512.61,375.12 L513.50,374.24 L514.61,373.65 L515.55,372.84 L516.53,372.07 L517.76,371.66 L518.53,370.60 L519.52,369.87 L520.61,369.25 L521.62,368.52 L522.51,367.65 L523.56,366.98 L524.73,366.48 L525.52,365.46 L526.59,364.81 L527.77,364.32 L528.55,363.29 L529.55,362.56 L530.60,361.90 L531.62,361.19 L532.47,360.25 L533.44,359.48 L534.78,359.21 L535.50,358.09 L536.63,357.53 L537.71,356.92 L538.71,356.18 L539.74,355.48 L540.45,354.36 L541.50,353.69 L542.47,352.92 L543.71,352.50 L544.62,351.65 L545.79,351.15 L546.63,350.20 L547.74,349.61 L548.68,348.80 L549.79,348.21 L550.49,347.08 L551.46,346.30 L552.47,345.58 L553.66,345.10 L554.43,344.07 L555.66,343.64 L556.69,342.95 L557.75,342.30 L558.69,341.48 L559.70,340.76 L560.61,339.90 L561.66,339.23 L562.47,338.25 L563.56,337.64 L564.45,336.76 L565.53,336.13 L566.53,335.39 L567.52,334.65 L568.69,334.14 L569.46,333.10 L570.62,332.59 L571.68,331.94 L572.44,330.88 L573.56,330.30 L574.59,329.61 L575.73,329.07 L576.71,328.32 L577.61,327.44 L578.47,326.51 L579.63,326.00 L580.72,325.39 L581.67,324.59 L582.70,323.90 L583.59,323.01 L586.53,327.02 L585.30,327.45 L584.24,328.10 L583.24,328.83 L582.26,329.59 L581.57,330.74 L580.29,331.10 L579.53,332.16 L578.27,332.53 L577.35,333.38 L576.32,334.07 L575.30,334.78 L574.47,335.75 L573.33,336.29 L572.26,336.92 L571.23,337.61 L570.44,338.63 L569.37,339.27 L568.23,339.81 L567.41,340.79 L566.54,341.70 L565.50,342.38 L564.55,343.18 L563.28,343.55 L562.31,344.32 L561.54,345.37 L560.51,346.06 L559.23,346.41 L558.36,347.33 L557.42,348.14 L556.35,348.78 L555.32,349.46 L554.47,350.40 L553.25,350.85 L552.48,351.88 L551.51,352.66 L550.33,353.15 L549.32,353.87 L548.39,354.69 L547.22,355.20 L546.53,356.36 L545.46,357.00 L544.39,357.64 L543.26,358.19 L542.40,359.11 L541.42,359.87 L540.55,360.78 L539.31,361.19 L538.56,362.26 L537.38,362.75 L536.54,363.71 L535.28,364.09 L534.25,364.78 L533.38,365.68 L532.32,366.33 L531.46,367.26 L530.31,367.79 L529.22,368.40 L528.32,369.27 L527.30,369.98 L526.24,370.63 L525.43,371.63 L524.46,372.39 L523.35,372.98 L522.56,374.00 L521.29,374.36 L520.31,375.13 L519.30,375.85 L518.24,376.50 L517.40,377.46 L516.48,378.29 L515.21,378.67 L514.45,379.73 L513.44,380.44 L512.51,381.27 L511.34,381.78 L510.23,382.36 L509.46,383.41 L508.54,384.25 L507.52,384.95 L506.53,385.69 L505.43,386.28 L504.54,387.17 L503.47,387.83 L502.55,388.69 L501.49,389.35 L500.31,389.86 L499.38,390.70 L498.58,391.72 L497.51,392.37 L496.46,393.06 L495.36,393.67 L494.29,394.33 L493.43,395.27 L492.38,395.96 L491.47,396.83 L490.47,397.59 L489.43,398.29 L488.43,399.04 L487.65,400.09 L486.50,400.65 L485.66,401.61 L484.47,402.13 L483.48,402.90 L482.41,403.56 L481.57,404.53 L480.63,405.37 L479.39,405.82 L478.60,406.86 L477.38,407.34 L476.47,408.21 L475.58,409.12 L474.65,409.98 L473.71,410.82 L472.54,411.37 L471.67,412.30 L470.52,412.88 L469.41,413.50 L468.55,414.46 L467.58,415.27 L466.38,415.79 L465.39,416.58 L464.45,417.43 L463.50,418.27 L462.51,419.06 L461.47,419.79 L460.46,420.56 L459.49,421.38 L458.46,422.12 L457.76,423.28 L456.54,423.80 L455.74,424.84 L454.75,425.63 L453.73,426.39 L452.79,427.25 L451.63,427.85 L450.63,428.64 L449.64,429.44 L448.64,430.25 L447.65,431.05 L446.65,431.85 L445.66,432.66 L444.66,433.47 L443.66,434.28 L442.67,435.09 L441.67,435.90 L440.68,436.72 L439.68,437.53 L438.69,438.35 L437.69,439.17 L436.70,439.99 L435.71,440.82 L434.71,441.64 L433.72,442.47 L432.72,443.30 L431.70,444.16 L430.67,444.97 L429.67,445.75 L428.67,446.54 L427.67,447.33 L426.68,448.12 L425.68,448.91 L424.68,449.71 L423.68,450.50 L422.68,451.29 L421.68,452.09 L420.68,452.88 L419.68,453.68 L418.68,454.47 L417.69,455.27 L416.69,456.07 L415.69,456.87 L414.69,457.67 L413.69,458.47 L412.69,459.27 L411.69,460.07 L410.69,460.88 L409.69,461.68 L408.70,462.49 L407.70,463.29 L406.70,464.10 L405.70,464.91 L404.70,465.72 L403.70,466.53 L402.70,467.34 L401.70,468.15 L400.70,468.96 L399.71,469.78 L398.71,470.59 L397.71,471.41 L396.71,472.22 L395.71,473.04 L394.71,473.86 L393.71,474.68 L392.71,475.50 L391.72,476.32 L390.72,477.14 L389.72,477.97 L388.72,478.79 L387.72,479.62 L386.72,480.44 L385.72,481.27 L384.72,482.10 L383.73,482.93 L382.73,483.76 L381.73,484.59 L380.73,485.42 L379.73,486.26 L378.73,487.09 L377.73,487.93 L376.73,488.76 L375.74,489.60 L374.74,490.44 L373.74,491.28 L372.74,492.12 L371.74,492.96 L370.74,493.81 L369.74,494.65 L368.74,495.50 L367.75,496.34 L366.75,497.19 L365.75,498.04 L364.75,498.89 L363.75,499.74 L362.75,500.59 L361.75,501.44 L360.75,502.29 L359.76,503.15 L358.76,504.00 L357.76,504.86 L356.76,505.72 L355.76,506.58 L354.76,507.44 L353.76,508.30 L352.76,509.16 L351.77,510.03 L350.77,510.89 L349.77,511.75 L348.77,512.62 L347.77,513.49 L346.77,514.36 L345.77,515.23 L344.77,516.10 L343.78,516.97 L342.78,517.84 L341.78,518.72 L340.78,519.59 L339.78,520.47 L338.78,521.34 L337.78,522.22 L336.78,523.10 L335.79,523.98 L334.79,524.86 L333.79,525.74 L332.79,526.63 L331.79,527.51 L330.79,528.40 L329.79,529.28 L328.79,530.17 L327.79,531.06 L326.80,531.95 L325.80,532.84 L324.80,533.73 L323.80,534.62 L322.80,535.51 L321.80,536.41 L320.80,537.30 L319.80,538.20 L318.80,539.09 L317.81,539.99 L316.81,540.89 L315.81,541.79 L314.81,542.69 L313.81,543.59 L312.81,544.49 L311.81,545.40 L310.81,546.30 L309.81,547.21 L308.81,548.11 L307.82,549.02 L306.82,549.93 L305.82,550.83 L304.82,551.74 L303.82,552.65 L302.82,553.56 L301.82,554.48 L300.82,555.39 L299.82,556.30 L298.82,557.22 L297.82,558.13 L296.82,559.05 L295.83,559.96 L294.83,560.88 L293.83,561.80 L292.83,562.72 L291.83,563.64 L290.83,564.56 L289.83,565.48 L288.83,566.40 L287.83,567.33 L286.83,568.25 L285.83,569.17 L284.83,570.10 L283.84,571.03 L282.84,571.95 L281.84,572.88 L280.84,573.81 L279.84,574.74 L278.84,575.66 L277.84,576.59 L276.84,577.53 L275.84,578.46 L274.84,579.39 L273.84,580.32 L272.84,581.25 L271.84,582.19 L270.84,583.12 L269.84,584.06 L268.85,584.99 L267.85,585.93 L266.85,586.87 L265.85,587.80 L264.85,588.74 L263.85,589.68 L262.85,590.62 L261.85,591.56 L260.85,592.50 L259.85,593.44 L258.85,594.38 L257.85,595.32 L256.85,596.26 L255.85,597.21 L254.85,598.15 L253.85,599.09 L252.85,600.04 L251.86,600.98 L250.86,601.93 L249.86,602.88 L248.86,603.82 L247.86,604.77 L246.86,605.72 L245.86,606.66 L244.86,607.61 L243.86,608.56 L242.86,609.51 L241.86,610.46 L240.86,611.41 L239.86,612.36 L238.86,613.31 L237.86,614.26 L236.86,615.21 L235.86,616.16 L234.86,617.12 L233.86,618.07 L232.86,619.02 L231.86,619.97 L230.86,620.93 L229.86,621.88 L228.86,622.84 L227.87,623.79 L226.87,624.75 L225.87,625.70 L224.87,626.66 L223.87,627.61 L222.87,628.57 L221.87,629.53 L220.87,630.49 L219.87,631.44 L218.87,632.40 L217.87,633.36 L216.87,634.32 L215.87,635.28 L214.87,636.24 L213.87,637.19 L212.87,638.15 L211.87,639.11 L210.87,640.07 L209.87,641.03 L208.87,642.00 L207.87,642.96 L206.87,643.92 L205.87,644.88 L204.87,645.84 L203.87,646.80 L202.87,647.77 L201.87,648.73 L200.87,649.69 L199.87,650.65 L198.87,651.62 L197.87,652.58 L196.87,653.54 L195.87,654.51 L194.87,655.47 L193.87,656.44 L192.87,657.40 L191.87,658.36 L190.88,659.33 L189.88,660.29 L188.88,661.26 L187.88,662.23 L186.88,663.19 L185.88,664.16 L184.88,665.12 L183.88,666.09 L182.88,667.06 L181.88,668.02 L180.88,668.99 L179.88,669.96 L178.88,670.92 L177.88,671.89 L176.88,672.86 L175.88,673.83 L174.88,674.79 L173.88,675.76 L172.88,676.73 L171.88,677.70Z" fill="#c0c0c0"/>
<line x1="138.0" y1="652.45" x2="586" y2="324.18" stroke="#000" stroke-width="1.8"/>
<path d="M138.67,564.70 L139.17,564.63 L139.67,564.56 L140.17,564.49 L140.66,564.41 L141.16,564.34 L141.66,564.27 L142.16,564.20 L142.66,564.13 L143.16,564.06 L143.66,563.99 L144.15,563.92 L144.65,563.85 L145.15,563.78 L145.65,563.71 L146.15,563.64 L146.65,563.57 L147.14,563.50 L147.64,563.43 L148.14,563.37 L148.64,563.30 L149.14,563.23 L149.64,563.16 L150.14,563.10 L150.63,563.03 L151.13,562.97 L151.63,562.90 L152.13,562.84 L152.63,562.77 L153.13,562.71 L153.62,562.64 L154.12,562.58 L154.62,562.52 L155.12,562.45" fill="none" stroke="#ff8000" stroke-width="5.4" stroke-linecap="round" stroke-linejoin="round"/>
<path d="M181.49,559.75 L181.98,559.71 L182.47,559.67 L182.96,559.63 L183.45,559.59 L183.93,559.55 L184.42,559.51 L184.91,559.47 L185.40,559.43 L185.89,559.40 L186.38,559.36 L186.87,559.32 L187.36,559.28 L187.84,559.24 L188.33,559.20 L188.82,559.17 L189.31,559.13 L189.80,559.09 L190.29,559.05 L190.78,559.02 L191.27,558.98 L191.76,558.94 L192.24,558.90 L192.73,558.86 L193.22,558.83 L193.71,558.79 L194.20,558.75 L194.69,558.71 L195.18,558.67 L195.67,558.63 L196.15,558.60 L196.64,558.56 L197.13,558.52 L197.62,558.48 L198.11,558.44" fill="none" stroke="#ff8000" stroke-width="5.4" stroke-linecap="round" stroke-linejoin="round"/>
<path d="M224.20,556.39 L224.68,556.37 L225.17,556.34 L225.66,556.32 L226.15,556.30 L226.64,556.27 L227.13,556.25 L227.61,556.23 L228.10,556.21 L228.59,556.19 L229.08,556.17 L229.57,556.15 L230.06,556.13 L230.54,556.11 L231.03,556.09 L231.52,556.08 L232.01,556.06 L232.50,556.04 L232.99,556.02 L233.48,556.01 L233.96,555.99 L234.45,555.97 L234.94,555.96 L235.43,555.94 L235.92,555.93 L236.41,555.91 L236.89,555.90 L237.38,555.88 L237.87,555.87 L238.36,555.85 L238.85,555.84 L239.34,555.82 L239.82,555.81 L240.31,555.79 L240.80,555.78" fill="none" stroke="#ff8000" stroke-width="5.4" stroke-linecap="round" stroke-linejoin="round"/>
<path d="M265.90,555.20 L266.39,555.20 L266.89,555.20 L267.38,555.21 L267.88,555.21 L268.37,555.22 L268.87,555.22 L269.36,555.23 L269.86,555.24 L270.35,555.24 L270.85,555.25 L271.34,555.26 L271.83,555.27 L272.33,555.28 L272.82,555.30 L273.32,555.31 L273.81,555.32 L274.31,555.33 L274.80,555.35 L275.30,555.36 L275.79,555.38 L276.29,555.39 L276.78,555.41 L277.27,555.43 L277.77,555.44 L278.26,555.46 L278.76,555.48 L279.25,555.50 L279.75,555.52 L280.24,555.54 L280.74,555.56 L281.23,555.58 L281.73,555.60 L282.22,555.62 L282.71,555.65 L283.21,555.67 L283.70,555.69" fill="none" stroke="#ff8000" stroke-width="5.4" stroke-linecap="round" stroke-linejoin="round"/>
<path d="M308.09,557.46 L308.58,557.51 L309.07,557.56 L309.56,557.61 L310.06,557.67 L310.55,557.72 L311.04,557.77 L311.53,557.83 L312.03,557.89 L312.52,557.94 L313.01,558.00 L313.50,558.06 L314.00,558.11 L314.49,558.17 L314.98,558.23 L315.47,558.29 L315.97,558.35 L316.46,558.41 L316.95,558.47 L317.44,558.54 L317.93,558.60 L318.43,558.66 L318.92,558.72 L319.41,558.79 L319.90,558.85 L320.40,558.92 L320.89,558.98 L321.38,559.05 L321.87,559.11 L322.37,559.18 L322.86,559.25 L323.35,559.32 L323.84,559.38 L324.34,559.45 L324.83,559.52" fill="none" stroke="#ff8000" stroke-width="5.4" stroke-linecap="round" stroke-linejoin="round"/>
<path d="M350.77,563.31 L351.27,563.38 L351.76,563.45 L352.25,563.51 L352.74,563.58 L353.24,563.65 L353.73,563.71 L354.22,563.78 L354.72,563.85 L355.21,563.91 L355.70,563.98 L356.19,564.04 L356.69,564.11 L357.18,564.17 L357.67,564.24 L358.17,564.30 L358.66,564.37 L359.15,564.43 L359.64,564.50 L360.14,564.56 L360.63,564.63 L361.12,564.70 L361.61,564.76 L362.11,564.83 L362.60,564.89 L363.09,564.96 L363.59,565.02 L364.08,565.09 L364.57,565.16 L365.06,565.22 L365.56,565.29 L366.05,565.36 L366.54,565.43 L367.03,565.50 L367.53,565.56" fill="none" stroke="#ff8000" stroke-width="5.4" stroke-linecap="round" stroke-linejoin="round"/>
<path d="M393.17,569.55 L393.66,569.63 L394.16,569.71 L394.66,569.79 L395.16,569.87 L395.66,569.95 L396.16,570.03 L396.66,570.11 L397.16,570.19 L397.65,570.26 L398.15,570.34 L398.65,570.42 L399.15,570.50 L399.65,570.57 L400.15,570.65 L400.65,570.73 L401.15,570.80 L401.65,570.88 L402.14,570.95 L402.64,571.03 L403.14,571.10 L403.64,571.17 L404.14,571.25 L404.64,571.32 L405.14,571.39 L405.64,571.47 L406.13,571.54 L406.63,571.61 L407.13,571.68 L407.63,571.75 L408.13,571.82 L408.63,571.89 L409.13,571.96 L409.63,572.03 L410.12,572.10" fill="none" stroke="#ff8000" stroke-width="5.4" stroke-linecap="round" stroke-linejoin="round"/>
<path d="M435.38,575.37 L435.87,575.43 L436.36,575.49 L436.86,575.56 L437.35,575.62 L437.84,575.68 L438.33,575.74 L438.82,575.80 L439.32,575.87 L439.81,575.93 L440.30,575.99 L440.79,576.05 L441.29,576.12 L441.78,576.18 L442.27,576.24 L442.76,576.31 L443.26,576.37 L443.75,576.43 L444.24,576.50 L444.73,576.56 L445.22,576.62 L445.72,576.69 L446.21,576.75 L446.70,576.81 L447.19,576.88 L447.69,576.94 L448.18,577.01 L448.67,577.07 L449.16,577.14 L449.65,577.20 L450.15,577.27 L450.64,577.33 L451.13,577.39 L451.62,577.46" fill="none" stroke="#ff8000" stroke-width="5.4" stroke-linecap="round" stroke-linejoin="round"/>
<path d="M473.58,580.34 L474.07,580.40 L474.57,580.46 L475.06,580.53 L475.56,580.59 L476.05,580.65 L476.54,580.71 L477.04,580.77 L477.53,580.84 L478.03,580.90 L478.52,580.96 L479.02,581.02 L479.51,581.08 L480.00,581.14 L480.50,581.20 L480.99,581.26 L481.49,581.32 L481.98,581.38 L482.48,581.44 L482.97,581.50 L483.46,581.56 L483.96,581.61 L484.45,581.67 L484.95,581.73 L485.44,581.79 L485.94,581.85 L486.43,581.91 L486.92,581.96 L487.42,582.02" fill="none" stroke="#ff8000" stroke-width="5.4" stroke-linecap="round" stroke-linejoin="round"/>
<path d="M505.28,584.15 L505.78,584.21 L506.27,584.28 L506.77,584.34 L507.27,584.41 L507.77,584.47 L508.26,584.54 L508.76,584.60 L509.26,584.67 L509.75,584.73 L510.25,584.80 L510.75,584.87 L511.25,584.93 L511.74,585.00 L512.24,585.07 L512.74,585.14 L513.23,585.21 L513.73,585.28 L514.23,585.35 L514.73,585.42" fill="none" stroke="#ff8000" stroke-width="5.4" stroke-linecap="round" stroke-linejoin="round"/>
<path d="M525.78,586.92 L526.26,586.98 L526.75,587.04 L527.24,587.10 L527.73,587.15 L528.22,587.21 L528.71,587.27 L529.19,587.32 L529.68,587.38 L530.17,587.43 L530.66,587.48 L531.15,587.53 L531.63,587.58 L532.12,587.63 L532.61,587.67" fill="none" stroke="#ff8000" stroke-width="5.4" stroke-linecap="round" stroke-linejoin="round"/>
<path d="M543.89,588.55 L544.36,588.57 L544.82,588.60 L545.29,588.63 L545.75,588.66 L546.22,588.68 L546.68,588.71 L547.15,588.74 L547.61,588.76 L548.07,588.79 L548.54,588.81 L549.00,588.84" fill="none" stroke="#ff8000" stroke-width="5.4" stroke-linecap="round" stroke-linejoin="round"/>
<path d="M557.80,589.28 L558.29,589.31 L558.78,589.34 L559.27,589.36 L559.76,589.39 L560.25,589.41 L560.74,589.44 L561.22,589.47 L561.71,589.49 L562.20,589.52" fill="none" stroke="#ff8000" stroke-width="5.4" stroke-linecap="round" stroke-linejoin="round"/>
<path d="M569.70,589.95 L570.18,589.98 L570.66,590.01 L571.14,590.04 L571.62,590.07 L572.10,590.09" fill="none" stroke="#ff8000" stroke-width="5.4" stroke-linecap="round" stroke-linejoin="round"/>
<path d="M578.40,590.43 L578.89,590.46 L579.38,590.48 L579.87,590.51 L580.36,590.53 L580.85,590.56 L581.34,590.58 L581.83,590.61 L582.32,590.63 L582.81,590.66 L583.30,590.68" fill="none" stroke="#ff8000" stroke-width="5.4" stroke-linecap="round" stroke-linejoin="round"/>
<line x1="138.0" y1="539.89" x2="586" y2="594.60" stroke="#000" stroke-width="1.8"/>
</g>
<g font-family="Liberation Sans, sans-serif" fill="#000" stroke="#000" stroke-width="0.3">
<path d="M763,0 L583,0 L583,1147 Q518,1085 412.5,1023 Q307,961 223,930 L223,1104 Q374,1175 487,1276 Q600,1377 647,1472 L763,1472 Z" transform="translate(89.67,671.75) scale(0.01212,-0.01138)" fill="#000" stroke="none"/>
<text transform="translate(103.47,671.75) scale(1.065,1)" font-size="23.3" stroke-width="0.3">0</text>
<text transform="translate(116.37,658.85) scale(1.065,1)" font-size="14.4" stroke-width="0.2">-</text>
<text transform="translate(121.47,658.85) scale(1.065,1)" font-size="14.4" stroke-width="0.2">3</text>
<path d="M763,0 L583,0 L583,1147 Q518,1085 412.5,1023 Q307,961 223,930 L223,1104 Q374,1175 487,1276 Q600,1377 647,1472 L763,1472 Z" transform="translate(89.67,607.42) scale(0.01212,-0.01138)" fill="#000" stroke="none"/>
<text transform="translate(103.47,607.42) scale(1.065,1)" font-size="23.3" stroke-width="0.3">0</text>
<text transform="translate(116.37,594.52) scale(1.065,1)" font-size="14.4" stroke-width="0.2">-</text>
<path d="M763,0 L583,0 L583,1147 Q518,1085 412.5,1023 Q307,961 223,930 L223,1104 Q374,1175 487,1276 Q600,1377 647,1472 L763,1472 Z" transform="translate(121.47,594.52) scale(0.00749,-0.00703)" fill="#000" stroke="none"/>
<path d="M763,0 L583,0 L583,1147 Q518,1085 412.5,1023 Q307,961 223,930 L223,1104 Q374,1175 487,1276 Q600,1377 647,1472 L763,1472 Z" transform="translate(94.48,543.08) scale(0.01212,-0.01138)" fill="#000" stroke="none"/>
<text transform="translate(108.28,543.08) scale(1.065,1)" font-size="23.3" stroke-width="0.3">0</text>
<path d="M763,0 L583,0 L583,1147 Q518,1085 412.5,1023 Q307,961 223,930 L223,1104 Q374,1175 487,1276 Q600,1377 647,1472 L763,1472 Z" transform="translate(121.17,530.18) scale(0.00749,-0.00703)" fill="#000" stroke="none"/>
<path d="M763,0 L583,0 L583,1147 Q518,1085 412.5,1023 Q307,961 223,930 L223,1104 Q374,1175 487,1276 Q600,1377 647,1472 L763,1472 Z" transform="translate(94.48,478.75) scale(0.01212,-0.01138)" fill="#000" stroke="none"/>
<text transform="translate(108.28,478.75) scale(1.065,1)" font-size="23.3" stroke-width="0.3">0</text>
<text transform="translate(121.17,465.85) scale(1.065,1)" font-size="14.4" stroke-width="0.2">3</text>
<path d="M763,0 L583,0 L583,1147 Q518,1085 412.5,1023 Q307,961 223,930 L223,1104 Q374,1175 487,1276 Q600,1377 647,1472 L763,1472 Z" transform="translate(94.48,414.42) scale(0.01212,-0.01138)" fill="#000" stroke="none"/>
<text transform="translate(108.28,414.42) scale(1.065,1)" font-size="23.3" stroke-width="0.3">0</text>
<text transform="translate(121.17,401.52) scale(1.065,1)" font-size="14.4" stroke-width="0.2">5</text>
<path d="M763,0 L583,0 L583,1147 Q518,1085 412.5,1023 Q307,961 223,930 L223,1104 Q374,1175 487,1276 Q600,1377 647,1472 L763,1472 Z" transform="translate(94.48,350.08) scale(0.01212,-0.01138)" fill="#000" stroke="none"/>
<text transform="translate(108.28,350.08) scale(1.065,1)" font-size="23.3" stroke-width="0.3">0</text>
<text transform="translate(121.17,337.18) scale(1.065,1)" font-size="14.4" stroke-width="0.2">7</text>
<path d="M763,0 L583,0 L583,1147 Q518,1085 412.5,1023 Q307,961 223,930 L223,1104 Q374,1175 487,1276 Q600,1377 647,1472 L763,1472 Z" transform="translate(94.48,285.75) scale(0.01212,-0.01138)" fill="#000" stroke="none"/>
<text transform="translate(108.28,285.75) scale(1.065,1)" font-size="23.3" stroke-width="0.3">0</text>
<text transform="translate(121.17,272.85) scale(1.065,1)" font-size="14.4" stroke-width="0.2">9</text>
<path d="M763,0 L583,0 L583,1147 Q518,1085 412.5,1023 Q307,961 223,930 L223,1104 Q374,1175 487,1276 Q600,1377 647,1472 L763,1472 Z" transform="translate(117.69,695.30) scale(0.01212,-0.01138)" fill="#000" stroke="none"/>
<text transform="translate(131.48,695.30) scale(1.065,1)" font-size="23.3" stroke-width="0.3">0</text>
<text transform="translate(144.38,682.40) scale(1.065,1)" font-size="14.4" stroke-width="0.2">-</text>
<path d="M763,0 L583,0 L583,1147 Q518,1085 412.5,1023 Q307,961 223,930 L223,1104 Q374,1175 487,1276 Q600,1377 647,1472 L763,1472 Z" transform="translate(149.49,682.40) scale(0.00749,-0.00703)" fill="#000" stroke="none"/>
<path d="M763,0 L583,0 L583,1147 Q518,1085 412.5,1023 Q307,961 223,930 L223,1104 Q374,1175 487,1276 Q600,1377 647,1472 L763,1472 Z" transform="translate(251.91,695.30) scale(0.01212,-0.01138)" fill="#000" stroke="none"/>
<text transform="translate(265.71,695.30) scale(1.065,1)" font-size="23.3" stroke-width="0.3">0</text>
<text transform="translate(278.60,682.40) scale(1.065,1)" font-size="14.4" stroke-width="0.2">0</text>
<path d="M763,0 L583,0 L583,1147 Q518,1085 412.5,1023 Q307,961 223,930 L223,1104 Q374,1175 487,1276 Q600,1377 647,1472 L763,1472 Z" transform="translate(383.58,695.30) scale(0.01212,-0.01138)" fill="#000" stroke="none"/>
<text transform="translate(397.38,695.30) scale(1.065,1)" font-size="23.3" stroke-width="0.3">0</text>
<path d="M763,0 L583,0 L583,1147 Q518,1085 412.5,1023 Q307,961 223,930 L223,1104 Q374,1175 487,1276 Q600,1377 647,1472 L763,1472 Z" transform="translate(410.27,682.40) scale(0.00749,-0.00703)" fill="#000" stroke="none"/>
<path d="M763,0 L583,0 L583,1147 Q518,1085 412.5,1023 Q307,961 223,930 L223,1104 Q374,1175 487,1276 Q600,1377 647,1472 L763,1472 Z" transform="translate(515.25,695.30) scale(0.01212,-0.01138)" fill="#000" stroke="none"/>
<text transform="translate(529.05,695.30) scale(1.065,1)" font-size="23.3" stroke-width="0.3">0</text>
<text transform="translate(541.94,682.40) scale(1.065,1)" font-size="14.4" stroke-width="0.2">2</text>
<path d="M528,158 L554,-4 Q478,-20 418,-20 Q320,-20 266,11 Q212,42 190,92.5 Q168,143 168,305 L168,922 L35,922 L35,1062 L168,1062 L168,1325 L348,1433 L348,1062 L528,1062 L528,922 L348,922 L348,295 Q348,217 357.5,195 Q367,173 389,160 Q411,147 452,147 Q483,147 528,158 Z" transform="translate(395.40,744.10) scale(0.02072,-0.02012)" fill="#000" stroke="none"/>
<g transform="translate(62.4,494.2) scale(1.09,1) rotate(-90)"><text x="0" y="0" font-size="27.6" font-weight="bold" text-anchor="middle" stroke="none">x</text><text x="7.4" y="-15.0" font-size="18.2" text-anchor="start" stroke-width="0.2">2</text></g>
<path d="M42.5,509.9 L55.3,517.3 L67.9,509.9 M42.5,469.9 L55.3,462.3 L67.9,469.9" fill="none" stroke="#000" stroke-width="1.55"/>
<text x="532.30" y="322.80" font-size="32" stroke-width="0.7">~</text>
<path d="M528,158 L554,-4 Q478,-20 418,-20 Q320,-20 266,11 Q212,42 190,92.5 Q168,143 168,305 L168,922 L35,922 L35,1062 L168,1062 L168,1325 L348,1433 L348,1062 L528,1062 L528,922 L348,922 L348,295 Q348,217 357.5,195 Q367,173 389,160 Q411,147 452,147 Q483,147 528,158 Z" transform="translate(559.90,322.70) scale(0.01554,-0.01523)" fill="#000" stroke="none"/>
<text transform="translate(568.50,305.60) scale(1.0,1)" font-size="19.6" stroke-width="0.3">3</text>
<text x="563.00" y="391.20" font-size="32" stroke-width="0.7">~</text>
<path d="M528,158 L554,-4 Q478,-20 418,-20 Q320,-20 266,11 Q212,42 190,92.5 Q168,143 168,305 L168,922 L35,922 L35,1062 L168,1062 L168,1325 L348,1433 L348,1062 L528,1062 L528,922 L348,922 L348,295 Q348,217 357.5,195 Q367,173 389,160 Q411,147 452,147 Q483,147 528,158 Z" transform="translate(590.60,391.10) scale(0.01554,-0.01523)" fill="#000" stroke="none"/>
<text transform="translate(599.20,374.00) scale(1.0,1)" font-size="19.6" stroke-width="0.3">2</text>
<text x="563.00" y="503.00" font-size="32" stroke-width="0.7">~</text>
<path d="M528,158 L554,-4 Q478,-20 418,-20 Q320,-20 266,11 Q212,42 190,92.5 Q168,143 168,305 L168,922 L35,922 L35,1062 L168,1062 L168,1325 L348,1433 L348,1062 L528,1062 L528,922 L348,922 L348,295 Q348,217 357.5,195 Q367,173 389,160 Q411,147 452,147 Q483,147 528,158 Z" transform="translate(590.60,502.90) scale(0.01554,-0.01523)" fill="#000" stroke="none"/>
<text transform="translate(599.20,485.80) scale(1.0,1)" font-size="19.6" stroke-width="0.3">0</text>
<text transform="translate(610.10,485.80) scale(1.0,1)" font-size="19.6" stroke-width="0.3">.</text>
<text transform="translate(615.55,485.80) scale(1.0,1)" font-size="19.6" stroke-width="0.3">5</text>
<text x="530.70" y="641.10" font-size="32" stroke-width="0.7">~</text>
<path d="M528,158 L554,-4 Q478,-20 418,-20 Q320,-20 266,11 Q212,42 190,92.5 Q168,143 168,305 L168,922 L35,922 L35,1062 L168,1062 L168,1325 L348,1433 L348,1062 L528,1062 L528,922 L348,922 L348,295 Q348,217 357.5,195 Q367,173 389,160 Q411,147 452,147 Q483,147 528,158 Z" transform="translate(558.30,641.00) scale(0.01554,-0.01523)" fill="#000" stroke="none"/>
<text transform="translate(566.90,623.90) scale(1.0,1)" font-size="19.6" stroke-width="0.3">-</text>
<text transform="translate(573.43,623.90) scale(1.0,1)" font-size="19.6" stroke-width="0.3">0</text>
<text transform="translate(584.32,623.90) scale(1.0,1)" font-size="19.6" stroke-width="0.3">.</text>
<text transform="translate(589.77,623.90) scale(1.0,1)" font-size="19.6" stroke-width="0.3">5</text>
<line x1="188.20" y1="324" x2="242.50" y2="324" stroke="#c0c0c0" stroke-width="5.4" stroke-linecap="round"/>
<line x1="188.20" y1="354.6" x2="203.40" y2="354.6" stroke="#ff80ff" stroke-width="5.4" stroke-linecap="round"/>
<line x1="218.20" y1="354.6" x2="221.10" y2="354.6" stroke="#ff80ff" stroke-width="5.4" stroke-linecap="round"/>
<line x1="235.60" y1="354.6" x2="237.90" y2="354.6" stroke="#ff80ff" stroke-width="5.4" stroke-linecap="round"/>
<line x1="188.20" y1="384.7" x2="209.50" y2="384.7" stroke="#00ff00" stroke-width="5.4" stroke-linecap="round"/>
<line x1="224.50" y1="384.7" x2="226.60" y2="384.7" stroke="#00ff00" stroke-width="5.4" stroke-linecap="round"/>
<line x1="241.90" y1="384.7" x2="243.20" y2="384.7" stroke="#00ff00" stroke-width="5.4" stroke-linecap="round"/>
<line x1="188.20" y1="415.3" x2="191.00" y2="415.3" stroke="#00ffff" stroke-width="5.4" stroke-linecap="round"/>
<line x1="214.10" y1="415.3" x2="216.40" y2="415.3" stroke="#00ffff" stroke-width="5.4" stroke-linecap="round"/>
<line x1="238.90" y1="415.3" x2="241.70" y2="415.3" stroke="#00ffff" stroke-width="5.4" stroke-linecap="round"/>
<line x1="188.20" y1="446" x2="205.90" y2="446" stroke="#ff8000" stroke-width="5.4" stroke-linecap="round"/>
<line x1="230.60" y1="446" x2="242.50" y2="446" stroke="#ff8000" stroke-width="5.4" stroke-linecap="round"/>
<text x="256.4" y="332.80" font-family="Liberation Serif, serif" font-size="27.5" stroke="none">α</text>
<text transform="translate(269.90,332.80) scale(1.065,1)" font-size="23.3" stroke-width="0.3">=</text>
<text transform="translate(284.39,332.80) scale(1.065,1)" font-size="23.3" stroke-width="0.3">4</text>
<text x="256.4" y="363.40" font-family="Liberation Serif, serif" font-size="27.5" stroke="none">α</text>
<text transform="translate(269.90,363.40) scale(1.065,1)" font-size="23.3" stroke-width="0.3">=</text>
<text transform="translate(284.39,363.40) scale(1.065,1)" font-size="23.3" stroke-width="0.3">3</text>
<text x="256.4" y="393.50" font-family="Liberation Serif, serif" font-size="27.5" stroke="none">α</text>
<text transform="translate(269.90,393.50) scale(1.065,1)" font-size="23.3" stroke-width="0.3">=</text>
<path d="M763,0 L583,0 L583,1147 Q518,1085 412.5,1023 Q307,961 223,930 L223,1104 Q374,1175 487,1276 Q600,1377 647,1472 L763,1472 Z" transform="translate(284.39,393.50) scale(0.01212,-0.01138)" fill="#000" stroke="none"/>
<text transform="translate(298.19,393.50) scale(1.065,1)" font-size="23.3" stroke-width="0.3">.</text>
<text transform="translate(305.09,393.50) scale(1.065,1)" font-size="23.3" stroke-width="0.3">5</text>
<text x="256.4" y="424.10" font-family="Liberation Serif, serif" font-size="27.5" stroke="none">α</text>
<text transform="translate(269.90,424.10) scale(1.065,1)" font-size="23.3" stroke-width="0.3">=</text>
<path d="M763,0 L583,0 L583,1147 Q518,1085 412.5,1023 Q307,961 223,930 L223,1104 Q374,1175 487,1276 Q600,1377 647,1472 L763,1472 Z" transform="translate(284.39,424.10) scale(0.01212,-0.01138)" fill="#000" stroke="none"/>
<text x="256.4" y="454.80" font-family="Liberation Serif, serif" font-size="27.5" stroke="none">α</text>
<text transform="translate(269.90,454.80) scale(1.065,1)" font-size="23.3" stroke-width="0.3">=</text>
<text transform="translate(284.39,454.80) scale(1.065,1)" font-size="23.3" stroke-width="0.3">0</text>
<text transform="translate(298.19,454.80) scale(1.065,1)" font-size="23.3" stroke-width="0.3">.</text>
<text transform="translate(305.09,454.80) scale(1.065,1)" font-size="23.3" stroke-width="0.3">5</text>
</g>
</svg>
</body></html>
